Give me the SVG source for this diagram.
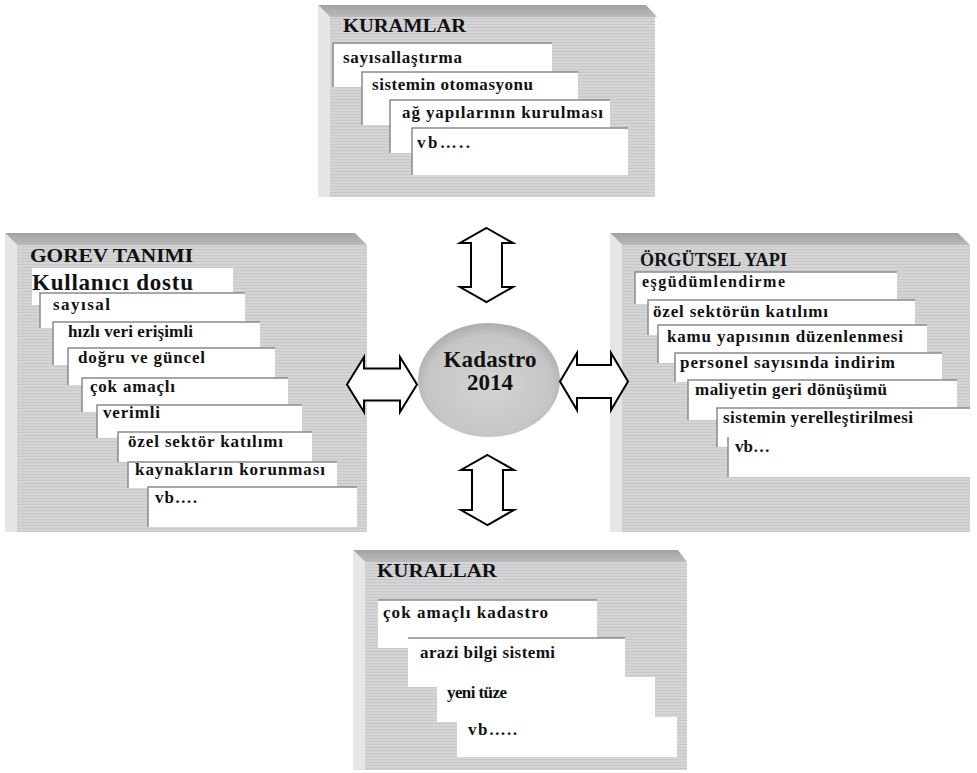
<svg xmlns="http://www.w3.org/2000/svg" width="977" height="773" viewBox="0 0 977 773">
  <defs>
    <!-- fine horizontal grain of the raised panels -->
    <pattern id="grain" width="4" height="3" patternUnits="userSpaceOnUse">
      <rect width="4" height="3" fill="#d4d4d6"/>
      <rect y="0" width="4" height="1" fill="#c8c8cb"/>
      <rect x="1" y="2" width="1" height="1" fill="#dcdcde"/>
    </pattern>
    <linearGradient id="topBevel" x1="0" y1="0" x2="0" y2="1">
      <stop offset="0" stop-color="#a2a2a2"/>
      <stop offset="1" stop-color="#bababa"/>
    </linearGradient>
    <radialGradient id="hub" cx="0.5" cy="0.55" r="0.55">
      <stop offset="0" stop-color="#d4d4d4"/>
      <stop offset="0.8" stop-color="#c6c6c6"/>
      <stop offset="1" stop-color="#acacac"/>
    </radialGradient>
  </defs>
  <style>
    .face { fill: url(#grain); }
    .top { fill: url(#topBevel); }
    .side { fill: #e6e6e8; }
    .box { fill: #ffffff; }
    .edge { fill: none; stroke: #8a8a8a; stroke-width: 1.5; }
    .arrow { fill: #ffffff; stroke: #000; stroke-width: 2; stroke-linejoin: miter; }
  </style>

  <rect width="977" height="773" fill="#ffffff"/>

  <g font-family="Liberation Serif, DejaVu Serif, serif" font-weight="bold" fill="#111">

  <!-- KURAMLAR -->
  <g id="kuramlar">
    <rect class="face" x="330" y="17" width="325" height="180"/>
    <polygon class="top" points="318,5 646,5 657,17 330,17"/>
    <polygon class="side" points="318,5 330,17 330,197 318,197"/>
    <text font-size="19" x="343" y="32" textLength="123" lengthAdjust="spacingAndGlyphs">KURAMLAR</text>
    <rect class="box" x="333" y="43" width="219" height="44"/>
    <polyline class="edge" points="333,87 333,43 552,43"/>
    <text font-size="17" x="343" y="63" textLength="119">sayısallaştırma</text>
    <rect class="box" x="362" y="72" width="216" height="53"/>
    <polyline class="edge" points="362,125 362,72 578,72"/>
    <text font-size="17" x="372" y="90" textLength="161">sistemin otomasyonu</text>
    <rect class="box" x="390" y="100" width="220" height="53"/>
    <polyline class="edge" points="390,153 390,100 610,100"/>
    <text font-size="17" x="402" y="118" textLength="201">ağ yapılarının kurulması</text>
    <rect class="box" x="412" y="128" width="216" height="47"/>
    <polyline class="edge" points="412,175 412,128 628,128"/>
    <text font-size="17" x="417" y="148" textLength="53">vb…..</text>
  </g>

  <!-- GOREV TANIMI -->
  <g id="gorev-tanimi">
    <rect class="face" x="17" y="245" width="350" height="287"/>
    <polygon class="top" points="5,233 355,233 367,245 17,245"/>
    <polygon class="side" points="5,233 17,245 17,532 5,532"/>
    <text font-size="19" x="30" y="262" textLength="163" lengthAdjust="spacingAndGlyphs">GOREV TANIMI</text>
    <rect class="box" x="32" y="268" width="201" height="37"/>
    <text font-size="23" x="32" y="290" textLength="161">Kullanıcı dostu</text>
    <rect class="box" x="40" y="293" width="205" height="35"/>
    <polyline class="edge" points="40,328 40,293 245,293"/>
    <text font-size="17" x="53" y="310" textLength="57">sayısal</text>
    <rect class="box" x="53" y="322" width="207" height="43"/>
    <polyline class="edge" points="53,365 53,322 260,322"/>
    <text font-size="17" x="68" y="337" textLength="125">hızlı veri erişimli</text>
    <rect class="box" x="68" y="348" width="207" height="37"/>
    <polyline class="edge" points="68,385 68,348 275,348"/>
    <text font-size="17" x="78" y="363" textLength="127">doğru ve güncel</text>
    <rect class="box" x="82" y="378" width="206" height="34"/>
    <polyline class="edge" points="82,412 82,378 288,378"/>
    <text font-size="17" x="90" y="392" textLength="85">çok amaçlı</text>
    <rect class="box" x="97" y="405" width="205" height="33"/>
    <polyline class="edge" points="97,438 97,405 302,405"/>
    <text font-size="17" x="103" y="418" textLength="57">verimli</text>
    <rect class="box" x="118" y="432" width="194" height="30"/>
    <polyline class="edge" points="118,462 118,432 312,432"/>
    <text font-size="17" x="128" y="447" textLength="155">özel sektör katılımı</text>
    <rect class="box" x="128" y="462" width="209" height="26"/>
    <polyline class="edge" points="128,488 128,462 337,462"/>
    <text font-size="17" x="135" y="475" textLength="190">kaynakların korunması</text>
    <rect class="box" x="148" y="487" width="209" height="40"/>
    <polyline class="edge" points="148,527 148,487 357,487"/>
    <text font-size="17" x="155" y="503" textLength="42">vb….</text>
  </g>

  <!-- ÖRGÜTSEL YAPI -->
  <g id="orgutsel-yapi">
    <rect class="face" x="622" y="245" width="348" height="287"/>
    <polygon class="top" points="610,233 958,233 970,245 622,245"/>
    <polygon class="side" points="610,233 622,245 622,532 610,532"/>
    <text font-size="19" x="640" y="266" textLength="147" lengthAdjust="spacingAndGlyphs">ÖRGÜTSEL YAPI</text>
    <rect class="box" x="635" y="272" width="262" height="32"/>
    <polyline class="edge" points="635,304 635,272 897,272"/>
    <text font-size="16" x="642" y="287" textLength="143">eşgüdümlendirme</text>
    <rect class="box" x="648" y="300" width="267" height="35"/>
    <polyline class="edge" points="648,335 648,300 915,300"/>
    <text font-size="17" x="653" y="317" textLength="175">özel sektörün katılımı</text>
    <rect class="box" x="658" y="325" width="269" height="38"/>
    <polyline class="edge" points="658,363 658,325 927,325"/>
    <text font-size="17" x="667" y="342" textLength="236">kamu yapısının düzenlenmesi</text>
    <rect class="box" x="675" y="353" width="267" height="29"/>
    <polyline class="edge" points="675,382 675,353 942,353"/>
    <text font-size="17" x="680" y="368" textLength="215">personel sayısında indirim</text>
    <rect class="box" x="688" y="380" width="269" height="40"/>
    <polyline class="edge" points="688,420 688,380 957,380"/>
    <text font-size="17" x="695" y="395" textLength="192">maliyetin geri dönüşümü</text>
    <rect class="box" x="717" y="408" width="253" height="39"/>
    <polyline class="edge" points="717,447 717,408 970,408"/>
    <text font-size="17" x="723" y="423" textLength="190">sistemin yerelleştirilmesi</text>
    <rect class="box" x="728" y="437" width="242" height="40"/>
    <polyline class="edge" points="728,477 728,437"/>
    <text font-size="17" x="735" y="452" textLength="35">vb…</text>
  </g>

  <!-- KURALLAR -->
  <g id="kurallar">
    <rect class="face" x="365" y="562" width="322" height="208"/>
    <polygon class="top" points="353,550 678,550 687,562 365,562"/>
    <polygon class="side" points="353,550 365,562 365,770 353,770"/>
    <text font-size="19" x="377" y="577" textLength="120" lengthAdjust="spacingAndGlyphs">KURALLAR</text>
    <rect class="box" x="378" y="600" width="219" height="48"/>
    <polyline class="edge" points="378,600 597,600"/>
    <text font-size="17" x="383" y="618" textLength="165">çok amaçlı kadastro</text>
    <rect class="box" x="408" y="638" width="217" height="49"/>
    <polyline class="edge" points="408,638 625,638"/>
    <text font-size="17" x="420" y="658" textLength="135">arazi bilgi sistemi</text>
    <rect class="box" x="437" y="677" width="218" height="45"/>
    <text font-size="17" x="447" y="698" textLength="60">yeni tüze</text>
    <rect class="box" x="457" y="717" width="220" height="40"/>
    <text font-size="17" x="468" y="735" textLength="49">vb…..</text>
  </g>

  <!-- central hub -->
  <g id="kadastro-2014">
    <ellipse cx="489" cy="380" rx="71" ry="57" fill="url(#hub)"/>
    <text x="490" y="367" font-size="23" text-anchor="middle" textLength="93">Kadastro</text>
    <text x="490" y="390" font-size="23" text-anchor="middle">2014</text>
  </g>

  </g>

  <!-- two-way block arrows linking the hub to each panel -->
  <g id="connectors">
    <polygon class="arrow" points="486.5,228 513,243 502,243 502,287 513,287 486.5,302 460,287 471,287 471,243 460,243"/>
    <polygon class="arrow" points="487.5,455 514,470 503,470 503,510 514,510 487.5,525 461,510 472,510 472,470 461,470"/>
    <polygon class="arrow" points="347,384.5 364,357 364,368.5 400,368.5 400,357 417,384.5 400,412 400,400.5 364,400.5 364,412"/>
    <polygon class="arrow" points="560,381.5 577,353 577,365 611,365 611,353 628,381.5 611,410 611,398 577,398 577,410"/>
  </g>
</svg>
